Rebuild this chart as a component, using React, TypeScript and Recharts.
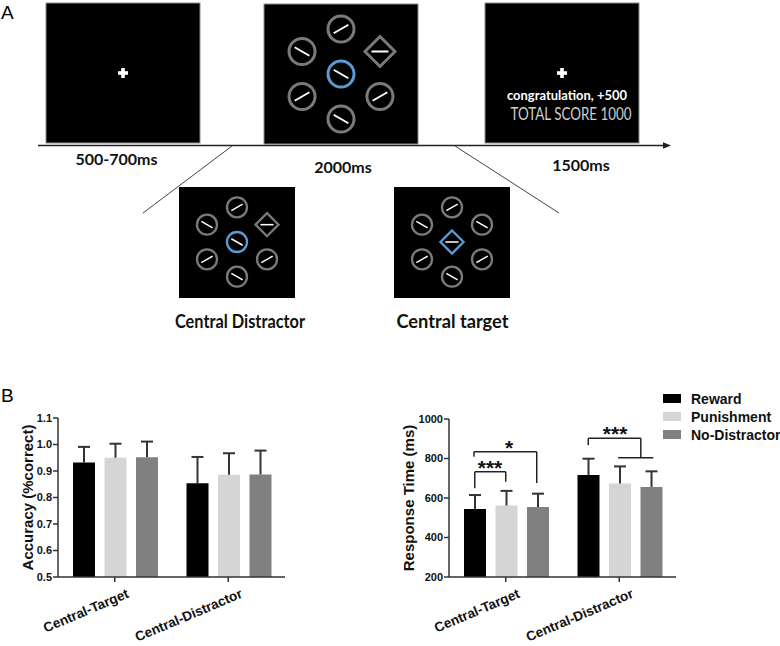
import React from "react";
import {
  Bar,
  BarChart,
  Legend,
  ReferenceDot,
  ReferenceLine,
  XAxis,
  YAxis,
} from "recharts";

// ---- panel B data ----
const conditions = ["Central-Target", "Central-Distractor"];
const seriesNames = ["Reward", "Punishment", "No-Distractor"];
const seriesColors = ["#000000", "#d5d5d5", "#808080"];

const accReward = [0.932, 0.854];
const accPunish = [0.95, 0.886];
const accNoDist = [0.952, 0.887];
const accRewardErr = [0.059, 0.099];
const accPunishErr = [0.053, 0.081];
const accNoDistErr = [0.059, 0.09];
const accTicks = [0.5, 0.6, 0.7, 0.8, 0.9, 1.0, 1.1];

const rtReward = [544, 716];
const rtPunish = [562, 673];
const rtNoDist = [554, 656];
const rtRewardErr = [71, 83];
const rtPunishErr = [74, 87];
const rtNoDistErr = [68, 79];
const rtTicks = [200, 400, 600, 800, 1000];

// significance brackets on the RT chart (x in category units 0..2, y in ms)
const brackets = [
  { x1: 0.227, x2: 0.5, y: 733, leg1: 650, leg2: 682 },
  { x1: 0.22, x2: 0.773, y: 834, leg1: 809, leg2: 676 },
  { x1: 1.227, x2: 1.69, y: 902, leg1: 868, leg2: 804 },
];
const underBar = { x1: 1.49, x2: 1.8, y: 804 };
const stars = [
  { x: 0.361, y: 733, label: "***" },
  { x: 0.529, y: 834, label: "*" },
  { x: 1.463, y: 902, label: "***" },
];

// ---- panel A stimulus layouts ----
type Item = { angle: number | null; shape: "circle" | "diamond"; tilt: number; blue?: boolean };
const displayDistractor: Item[] = [
  { angle: 90, shape: "circle", tilt: -30 },
  { angle: 150, shape: "circle", tilt: 30 },
  { angle: 30, shape: "diamond", tilt: 0 },
  { angle: 210, shape: "circle", tilt: -30 },
  { angle: 270, shape: "circle", tilt: 30 },
  { angle: 330, shape: "circle", tilt: -30 },
  { angle: null, shape: "circle", tilt: 30, blue: true },
];
const displayTarget: Item[] = [
  { angle: 90, shape: "circle", tilt: -30 },
  { angle: 150, shape: "circle", tilt: 30 },
  { angle: 30, shape: "circle", tilt: 30 },
  { angle: 210, shape: "circle", tilt: -30 },
  { angle: 270, shape: "circle", tilt: 30 },
  { angle: 330, shape: "circle", tilt: -30 },
  { angle: null, shape: "diamond", tilt: 0, blue: true },
];

const FONT_B = "'Liberation Sans', Arial, sans-serif";
const FONT_A = "Lato, 'Open Sans', sans-serif";
const AXIS = "#333";

function Display({ cx, cy, s, items }: { cx: number; cy: number; s: number; items: Item[] }) {
  return (
    <g>
      {items.map((it, i) => {
        const a = it.angle == null ? 0 : (it.angle * Math.PI) / 180;
        const r = it.angle == null ? 0 : 45 * s;
        const x = cx + r * Math.cos(a);
        const y = cy - r * Math.sin(a);
        const col = it.blue ? "#5b9bd5" : "#7a7a7a";
        const d = 15 * s;
        const half = 8.5 * s;
        return (
          <g key={i}>
            {it.shape === "circle" ? (
              <circle cx={x} cy={y} r={13 * s} fill="none" stroke={col} strokeWidth={3 * s} />
            ) : (
              <polygon
                points={`${x},${y - d} ${x + d},${y} ${x},${y + d} ${x - d},${y}`}
                fill="none"
                stroke={col}
                strokeWidth={3 * s}
              />
            )}
            <line
              x1={x - half}
              y1={y}
              x2={x + half}
              y2={y}
              stroke="#fff"
              strokeWidth={2 * s}
              transform={`rotate(${it.tilt}, ${x}, ${y})`}
            />
          </g>
        );
      })}
    </g>
  );
}

function Cross({ x, y }: { x: number; y: number }) {
  return (
    <g fill="#fff">
      <rect x={x - 5} y={y - 1.8} width={10} height={3.6} />
      <rect x={x - 1.8} y={y - 5} width={3.6} height={10} />
    </g>
  );
}

function PanelA() {
  return (
    <svg width={780} height={340} style={{ position: "absolute", left: 0, top: 0 }}>
      <text x={1} y={18.5} fontSize={19} fontFamily={FONT_B}>A</text>

      <rect x={46} y={3} width={154} height={140} fill="#000" stroke="#8c8c8c" strokeWidth={1} />
      <Cross x={123} y={73} />

      <rect x={264} y={4} width={154} height={140} fill="#000" stroke="#8c8c8c" strokeWidth={1} />
      <Display cx={341} cy={74} s={1} items={displayDistractor} />

      <rect x={485} y={3} width={154} height={140} fill="#000" stroke="#8c8c8c" strokeWidth={1} />
      <Cross x={562} y={73} />
      <text x={567} y={99.5} textAnchor="middle" fill="#fff" fontSize={13} fontWeight="bold"
        fontFamily={FONT_A} textLength={120} lengthAdjust="spacingAndGlyphs">
        congratulation, +500
      </text>
      <text x={571} y={120} textAnchor="middle" fill="#cfcfcf" fontSize={17}
        fontFamily={FONT_A} textLength={121} lengthAdjust="spacingAndGlyphs">
        TOTAL SCORE 1000
      </text>

      <line x1={38} y1={145.5} x2={665} y2={145.5} stroke="#222" strokeWidth={1.3} />
      <polygon points="663,142.3 671,145.5 663,148.7" fill="#222" />

      <line x1={232} y1={146} x2={143} y2={213} stroke="#444" strokeWidth={1} />
      <line x1={455} y1={146} x2={559} y2={213} stroke="#444" strokeWidth={1} />

      <g fontFamily={FONT_A} fontWeight="bold" fontSize={16} textAnchor="middle" fill="#111">
        <text x={116.5} y={165}>500-700ms</text>
        <text x={343} y={172.5}>2000ms</text>
        <text x={581} y={170.5}>1500ms</text>
      </g>

      <rect x={179} y={187} width={116} height={111} fill="#000" />
      <Display cx={237} cy={242} s={0.77} items={displayDistractor} />
      <rect x={394} y={187} width={116} height={111} fill="#000" />
      <Display cx={452} cy={242} s={0.77} items={displayTarget} />

      <g fontFamily={FONT_A} fontWeight="bold" fontSize={18} textAnchor="middle" fill="#111">
        <text x={240} y={328} textLength={130} lengthAdjust="spacingAndGlyphs">Central Distractor</text>
        <text x={452.5} y={328} textLength={112} lengthAdjust="spacingAndGlyphs">Central target</text>
      </g>
    </svg>
  );
}

function Whisker(props: any) {
  const { x, y, width, height } = props;
  if (x == null || y == null || !height) return null;
  const cx = x + width / 2;
  return (
    <g stroke={AXIS} strokeWidth={2} fill="none">
      <line x1={cx} y1={y} x2={cx} y2={y + height} />
      <line x1={cx - 6} y1={y} x2={cx + 6} y2={y} />
    </g>
  );
}

function AngledTick(props: any) {
  const { x, y, payload } = props;
  const tx = x + 15;
  const ty = y + 13;
  return (
    <text
      x={tx}
      y={ty}
      transform={`rotate(-23, ${tx}, ${ty})`}
      textAnchor="end"
      fontFamily={FONT_B}
      fontWeight="bold"
      fontSize={13.5}
      fill="#111"
    >
      {payload.value}
    </text>
  );
}

const yLabel = (text: string, cx: number) => (props: any) => {
  const vb = props.viewBox || {};
  const cy = (vb.y ?? 0) + (vb.height ?? 0) / 2;
  return (
    <text
      x={cx}
      y={cy}
      transform={`rotate(-90, ${cx}, ${cy})`}
      textAnchor="middle"
      dominantBaseline="central"
      fontFamily={FONT_B}
      fontWeight="bold"
      fontSize={15}
      fill="#111"
    >
      {text}
    </text>
  );
};

function LegendBox({ payload }: any) {
  const items = seriesNames
    .map((n) => (payload || []).find((p: any) => p.value === n))
    .filter(Boolean);
  return (
    <div style={{ fontFamily: FONT_B, fontWeight: "bold", fontSize: 14, color: "#111" }}>
      {items.map((p: any) => (
        <div key={p.value} style={{ display: "flex", alignItems: "center", height: 18 }}>
          <span style={{ width: 18, height: 8.5, background: p.color, marginRight: 10 }} />
          <span>{p.value}</span>
        </div>
      ))}
    </div>
  );
}

function GroupChart(props: {
  vals: number[][];
  errs: number[][];
  domain: [number, number];
  ticks: number[];
  fmt: (v: number) => string;
  label: string;
  labelX: number;
  width: number;
  yWidth: number;
  marginTop: number;
  marginRight: number;
  withExtras?: boolean;
}) {
  const rows = conditions.map((name, i) => ({
    name,
    pos: i + 0.5,
    s0: props.vals[0][i],
    s1: props.vals[1][i],
    s2: props.vals[2][i],
    e0: props.errs[0][i],
    e1: props.errs[1][i],
    e2: props.errs[2][i],
  }));
  const axisProps = { stroke: AXIS, strokeWidth: 1.5 };
  return (
    <BarChart
      width={props.width}
      height={266}
      data={rows}
      margin={{ top: props.marginTop, right: props.marginRight, bottom: 0, left: 0 }}
      barCategoryGap={15}
      barGap={9.5}
    >
      <XAxis
        dataKey="name"
        axisLine={axisProps}
        tickLine={axisProps}
        tickSize={5}
        height={69}
        interval={0}
        tick={<AngledTick />}
      />
      <XAxis xAxisId="pos" dataKey="pos" type="number" domain={[0, 2]} allowDataOverflow hide />
      <YAxis
        domain={props.domain}
        allowDataOverflow
        ticks={props.ticks}
        width={props.yWidth}
        axisLine={axisProps}
        tickLine={axisProps}
        tickSize={5}
        tickMargin={1}
        tickFormatter={props.fmt}
        tick={{ fill: "#111", fontSize: 11, fontWeight: "bold", fontFamily: FONT_B }}
        label={{ content: yLabel(props.label, props.labelX) }}
      />
      {[0, 1, 2].map((k) => (
        <Bar
          key={`b${k}`}
          dataKey={`s${k}`}
          name={seriesNames[k]}
          stackId={`g${k}`}
          fill={seriesColors[k]}
          isAnimationActive={false}
        />
      ))}
      {[0, 1, 2].map((k) => (
        <Bar
          key={`e${k}`}
          dataKey={`e${k}`}
          name={`err${k}`}
          stackId={`g${k}`}
          legendType="none"
          shape={<Whisker />}
          isAnimationActive={false}
        />
      ))}
      {props.withExtras &&
        brackets.flatMap((b, i) => [
          <ReferenceLine key={`h${i}`} xAxisId="pos" segment={[{ x: b.x1, y: b.y }, { x: b.x2, y: b.y }]} stroke="#222" strokeWidth={1.5} />,
          <ReferenceLine key={`l${i}`} xAxisId="pos" segment={[{ x: b.x1, y: b.leg1 }, { x: b.x1, y: b.y }]} stroke="#222" strokeWidth={1.5} />,
          <ReferenceLine key={`r${i}`} xAxisId="pos" segment={[{ x: b.x2, y: b.leg2 }, { x: b.x2, y: b.y }]} stroke="#222" strokeWidth={1.5} />,
        ])}
      {props.withExtras && (
        <ReferenceLine
          xAxisId="pos"
          segment={[{ x: underBar.x1, y: underBar.y }, { x: underBar.x2, y: underBar.y }]}
          stroke="#222"
          strokeWidth={1.5}
        />
      )}
      {props.withExtras &&
        stars.map((s, i) => (
          <ReferenceDot
            key={`s${i}`}
            xAxisId="pos"
            x={s.x}
            y={s.y}
            r={0}
            shape={(p: any) => (
              <text x={p.cx} y={p.cy + 3} textAnchor="middle" fontFamily={FONT_B} fontWeight="bold" fontSize={21} fill="#111">
                {s.label}
              </text>
            )}
          />
        ))}
      {props.withExtras && (
        <Legend
          layout="vertical"
          align="center"
          verticalAlign="middle"
          content={<LegendBox />}
          wrapperStyle={{ left: 273, top: 9.5, width: 120 }}
        />
      )}
    </BarChart>
  );
}

export default function App() {
  return (
    <div style={{ position: "absolute", left: 0, top: 0, width: 780, height: 646, background: "#fff", overflow: "hidden" }}>
      <PanelA />
      <svg width={30} height={30} style={{ position: "absolute", left: 0, top: 380 }}>
        <text x={1} y={21.7} fontSize={19} fontFamily={FONT_B}>B</text>
      </svg>
      <div style={{ position: "absolute", left: 0, top: 380 }}>
        <GroupChart
          vals={[accReward, accPunish, accNoDist]}
          errs={[accRewardErr, accPunishErr, accNoDistErr]}
          domain={[0.5, 1.1]}
          ticks={accTicks}
          fmt={(v) => v.toFixed(1)}
          label="Accuracy (%correct)"
          labelX={27}
          width={300}
          yWidth={58}
          marginTop={38}
          marginRight={15}
        />
      </div>
      <div style={{ position: "absolute", left: 390, top: 380 }}>
        <GroupChart
          vals={[rtReward, rtPunish, rtNoDist]}
          errs={[rtRewardErr, rtPunishErr, rtNoDistErr]}
          domain={[200, 1000]}
          ticks={rtTicks}
          fmt={(v) => String(v)}
          label="Response Time (ms)"
          labelX={18}
          width={390}
          yWidth={59}
          marginTop={39}
          marginRight={104}
          withExtras
        />
      </div>
    </div>
  );
}
